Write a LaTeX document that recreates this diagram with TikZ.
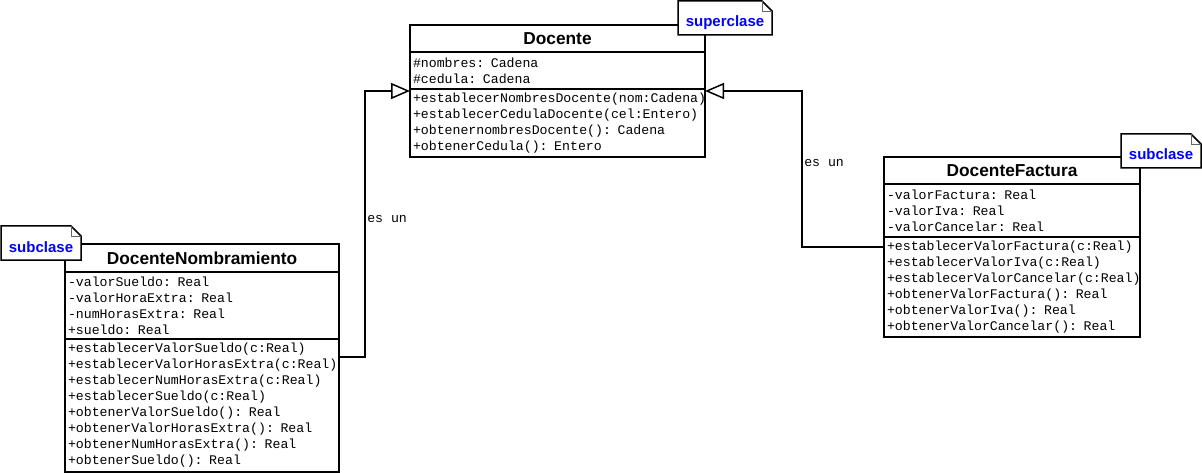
\documentclass[tikz,border=0pt]{standalone}
\usepackage{fontspec}
\setmainfont{Liberation Sans}
\setmonofont{Liberation Mono}
\usetikzlibrary{arrows.meta,positioning}
\tikzset{
  classtitle/.style={draw, line width=1.5pt, fill=white, anchor=north west, inner sep=0pt, outer sep=0pt, font=\fontsize{17.3}{20}\selectfont\bfseries},
  classpart/.style={draw, line width=1.5pt, fill=white, align=left, inner xsep=3pt, inner ysep=0pt, outer sep=0pt, font=\ttfamily\fontsize{13.2}{16}\selectfont},
  notebox/.style={fill=white, anchor=north west, inner sep=0pt, outer sep=0pt, text height=26pt, text depth=8pt, text=blue, font=\fontsize{15}{18}\selectfont\bfseries},
  herencia/.style={line width=1.5pt, -{Triangle[open, length=19pt, width=16pt, fill=white]}},
  eslabel/.style={inner sep=1.5pt, anchor=west, font=\ttfamily\fontsize{13.2}{16}\selectfont},
}

\begin{document}
\begin{tikzpicture}[x=1pt, y=-1pt]
    \useasboundingbox (0,0) rectangle (1202,473);
    % superclase
    \node[classtitle, minimum width=295pt, minimum height=27pt] (docTit) at (410,25) {Docente};
    \node[classpart, below=0pt of docTit, text width=289pt, minimum height=37pt] (docAtr) {\#nombres: Cadena\\\#cedula: Cadena};
    \node[classpart, below=0pt of docAtr, text width=289pt, minimum height=68pt] (docMet) {+establecerNombresDocente(nom:Cadena)\\+establecerCedulaDocente(cel:Entero)\\+obtenernombresDocente(): Cadena\\+obtenerCedula(): Entero};
    % subclases
    \node[classtitle, minimum width=274pt, minimum height=28pt] (nomTit) at (65,244) {DocenteNombramiento};
    \node[classpart, below=0pt of nomTit, text width=268pt, minimum height=67pt] (nomAtr) {-valorSueldo: Real\\-valorHoraExtra: Real\\-numHorasExtra: Real\\+sueldo: Real};
    \node[classpart, below=0pt of nomAtr, text width=268pt, minimum height=133pt] (nomMet) {+establecerValorSueldo(c:Real)\\+establecerValorHorasExtra(c:Real)\\+establecerNumHorasExtra(c:Real)\\+establecerSueldo(c:Real)\\+obtenerValorSueldo(): Real\\+obtenerValorHorasExtra(): Real\\+obtenerNumHorasExtra(): Real\\+obtenerSueldo(): Real};
    \node[classtitle, minimum width=256pt, minimum height=27pt] (facTit) at (884,157) {DocenteFactura};
    \node[classpart, below=0pt of facTit, text width=250pt, minimum height=53pt] (facAtr) {-valorFactura: Real\\-valorIva: Real\\-valorCancelar: Real};
    \node[classpart, below=0pt of facAtr, text width=250pt, minimum height=100pt] (facMet) {+establecerValorFactura(c:Real)\\+establecerValorIva(c:Real)\\+establecerValorCancelar(c:Real)\\+obtenerValorFactura(): Real\\+obtenerValorIva(): Real\\+obtenerValorCancelar(): Real};
    % herencia
    \draw[herencia] ([yshift=-18pt]nomMet.north east) -- ++(26,0) |- node[eslabel, pos=0.26] {es un} ([yshift=-2pt]docMet.north west);
    \draw[herencia] ([yshift=-10pt]facMet.north west) -- ++(-82,0) |- node[eslabel, pos=0.27] {es un} ([yshift=-2pt]docMet.north east);
    % notas
    \node[notebox, minimum width=94pt] (notaSuper) at (678,1) {superclase};
    \node[notebox, minimum width=80pt] (notaNom) at (1,226) {subclase};
    \node[notebox, minimum width=80pt] (notaFac) at (1121,134) {subclase};
    \foreach \n in {notaSuper,notaNom,notaFac} {
      \draw[line width=1.5pt] (\n.north west) -- ([xshift=-10pt]\n.north east) -- ([yshift=-10pt]\n.north east) -- (\n.south east) -- (\n.south west) -- cycle;
      \draw[black!60] ([xshift=-10pt]\n.north east) |- ([yshift=-10pt]\n.north east);
    }
\end{tikzpicture}
\end{document}
